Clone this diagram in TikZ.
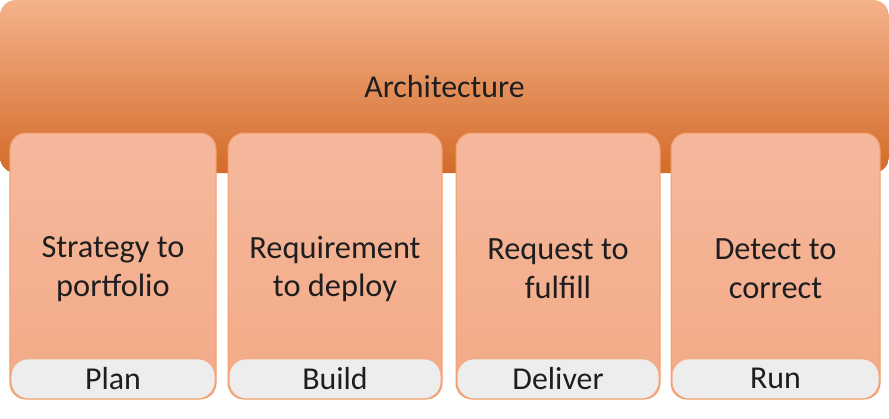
\documentclass[tikz,border=0pt]{standalone}
\usepackage{fontspec}
\setmainfont{Carlito}
\usepackage{tikz}
\usetikzlibrary{positioning,calc,shapes}
\definecolor{archtop}{RGB}{244,178,138}
\definecolor{archmid}{RGB}{238,140,72}
\definecolor{archbot}{RGB}{211,107,42}
\definecolor{pilltop}{RGB}{245,184,157}
\definecolor{pillbot}{RGB}{243,170,134}
\definecolor{pillline}{RGB}{242,158,106}
\definecolor{taggray}{RGB}{237,237,237}
\definecolor{ink}{RGB}{30,30,30}
\tikzset{
    banner/.style={rounded corners=16bp, top color=archtop, middle color=archmid, bottom color=archbot,
        minimum width=889bp, minimum height=173bp, inner sep=0pt, text=ink, font=\fontsize{32}{39}\selectfont},
    pillar/.style={draw=pillline, line width=1bp, rounded corners=16bp, top color=pilltop, bottom color=pillbot,
        minimum height=266bp, inner sep=0pt},
    pilltext/.style={align=center, inner sep=0pt, text=ink, font=\fontsize{32.5}{39}\selectfont},
    tagbox/.style={fill=taggray, rounded corners=17bp, minimum height=39bp, inner sep=0pt,
        text=ink, font=\fontsize{32}{34}\selectfont}
}
\begin{document}
\begin{tikzpicture}[x=1bp, y=-1bp]
    \useasboundingbox (0,0) rectangle (889,418);
    \node[banner] (arch) at (444.5,86.5) {Architecture};
    % pillars with their tags
    \foreach \i/\cx/\w/\txt/\tag in {1/113/206/{Strategy to\\portfolio}/Plan,
                                     2/335/214/{Requirement\\to deploy}/Build,
                                     3/558/204/{Request to\\fulfill}/Deliver,
                                     4/775.5/209/{Detect to\\correct}/Run} {
        \node[pillar, minimum width=\w bp] (P\i) at (\cx,266) {};
        \node[pilltext] (S\i) at ($(P\i.center)+(0,3)$) {\txt};
        \node[tagbox, minimum width=\w bp-3bp, anchor=south, yshift=1bp] (T\i) at (P\i.south) {\tag};
    }
\end{tikzpicture}
\end{document}
